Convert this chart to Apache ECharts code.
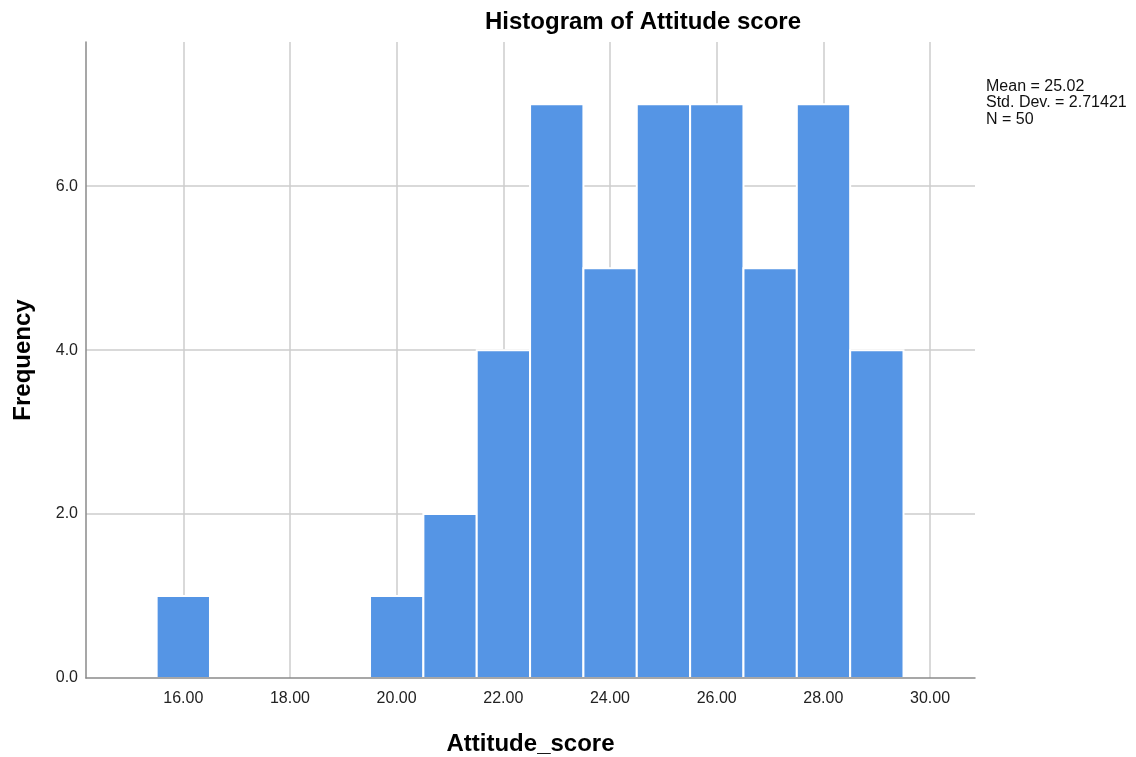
<!DOCTYPE html>
<html>
<head>
<meta charset="utf-8">
<script src="https://cdn.jsdelivr.net/npm/echarts@6/dist/echarts.min.js"></script>
<style>
  html, body { margin: 0; padding: 0; background: #fff; }
  #chart { width: 1136px; height: 757px; }
</style>
</head>
<body>
<div id="chart"></div>
<script>
// bin centres (width 1) and counts
const binCenters = [16, 17, 18, 19, 20, 21, 22, 23, 24, 25, 26, 27, 28, 29];
const binCounts  = [1, 0, 0, 0, 1, 2, 4, 7, 5, 7, 7, 5, 7, 4];
const statsLines = ["Mean = 25.02", "Std. Dev. = 2.71421", "N = 50"];
const xTicks = [16, 18, 20, 22, 24, 26, 28, 30];

const FONT = "'Liberation Sans', Arial, sans-serif";
const BAR_COLOR = "#5595e5";
const GRID_COLOR = "#cdcdcd";
const AXIS_COLOR = "#8a8a8a";

const binData = binCenters
  .map((c, i) => [c - 0.5, c + 0.5, binCounts[i]])
  .filter((d) => d[2] > 0);

const chart = echarts.init(document.getElementById("chart"), null, { renderer: "canvas" });

chart.setOption({
  backgroundColor: "#fff",
  animation: false,
  textStyle: { fontFamily: FONT },
  grid: [
    // plotting grid: axis lines + bars
    { left: 86, right: 161, top: 42, bottom: 79, outerBoundsMode: "none", containLabel: false },
    // tick grid: x labels and vertical grid lines on 2-unit steps
    { left: 76.6, right: 99.3, top: 42, bottom: 79, outerBoundsMode: "none", containLabel: false },
  ],
  xAxis: [
    {
      type: "value",
      gridIndex: 0,
      min: 14.176,
      max: 30.84,
      z: 10,
      axisLine: { show: true, onZero: false, lineStyle: { color: AXIS_COLOR, width: 1.5 } },
      axisTick: { show: false },
      axisLabel: { show: false },
      splitLine: { show: false },
      name: "Attitude_score",
      nameLocation: "middle",
      nameGap: 54,
      nameTextStyle: { fontFamily: FONT, fontSize: 24, fontWeight: "bold", color: "#000" },
    },
    {
      type: "value",
      gridIndex: 1,
      min: 14,
      max: 32,
      interval: 2,
      axisLine: { show: false },
      axisTick: { show: false },
      axisLabel: {
        show: true,
        margin: 13,
        fontFamily: FONT,
        fontSize: 16,
        color: "#222",
        showMinLabel: false,
        showMaxLabel: false,
        formatter: (v) => (xTicks.includes(v) ? v.toFixed(2) : ""),
      },
      splitLine: {
        show: true,
        showMinLine: false,
        showMaxLine: false,
        lineStyle: { color: GRID_COLOR, width: 1.5 },
      },
    },
  ],
  yAxis: [
    {
      type: "value",
      gridIndex: 0,
      min: 0,
      max: 7.76,
      interval: 2,
      axisLine: { show: true, lineStyle: { color: AXIS_COLOR, width: 1.5 } },
      axisTick: { show: false },
      axisLabel: {
        margin: 8,
        fontFamily: FONT,
        fontSize: 16,
        color: "#222",
        showMaxLabel: false,
        formatter: (v) => v.toFixed(1),
      },
      splitLine: {
        show: true,
        showMinLine: false,
        showMaxLine: false,
        lineStyle: { color: GRID_COLOR, width: 1.5 },
      },
      name: "Frequency",
      nameLocation: "middle",
      nameGap: 51,
      nameTextStyle: { fontFamily: FONT, fontSize: 24, fontWeight: "bold", color: "#000" },
    },
    { type: "value", gridIndex: 1, min: 0, max: 7.76, show: false },
  ],
  graphic: [
    {
      type: "text",
      x: 643,
      y: 10,
      style: {
        text: "Histogram of Attitude score",
        fontFamily: FONT,
        fontSize: 24,
        fontWeight: "bold",
        fill: "#000",
        align: "center",
        verticalAlign: "top",
      },
    },
    {
      type: "text",
      x: 986,
      y: 78,
      style: {
        text: statsLines.join("\n"),
        fontFamily: FONT,
        fontSize: 16,
        lineHeight: 16.5,
        fill: "#111",
        verticalAlign: "top",
      },
    },
  ],
  series: [
    {
      type: "custom",
      xAxisIndex: 0,
      yAxisIndex: 0,
      data: binData,
      z: 3,
      renderItem: (params, api) => {
        const p0 = api.coord([api.value(0), api.value(2)]);
        const p1 = api.coord([api.value(1), 0]);
        return {
          type: "rect",
          shape: { x: p0[0], y: p0[1], width: p1[0] - p0[0], height: p1[1] - p0[1] },
          style: { fill: BAR_COLOR, stroke: "#ffffff", lineWidth: 2 },
        };
      },
      encode: { x: [0, 1], y: 2 },
    },
  ],
});
</script>
</body>
</html>
